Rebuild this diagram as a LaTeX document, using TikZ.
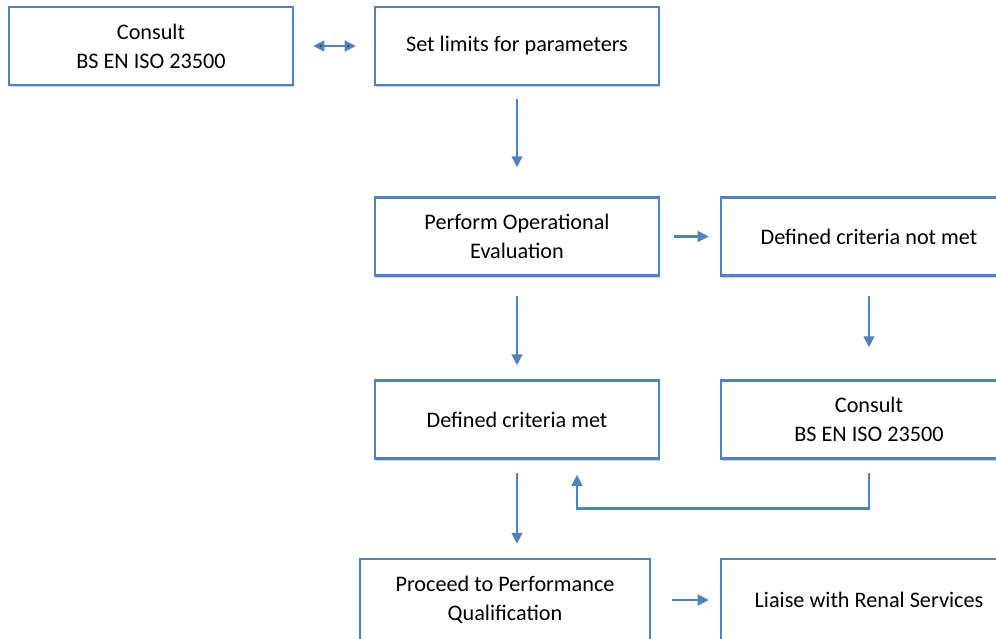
\documentclass[tikz,border=0pt]{standalone}
\usepackage{fontspec}
\setmainfont{Carlito}
\usetikzlibrary{arrows.meta,positioning,shadows}
\definecolor{boxblue}{RGB}{79,129,189}
\tikzset{
    stage/.style={
        rectangle,
        draw=boxblue,
        line width=1.5pt,
        fill=white,
        minimum width=7.1cm,
        minimum height=1.95cm,
        align=center,
        font=\fontsize{15.8}{20.6}\selectfont,
        drop shadow={shadow xshift=0.8pt, shadow yshift=-1.5pt, opacity=0.35},
    },
    wide stage/.style={
        stage,
        minimum width=7.4cm,
    },
    flow/.style={
        draw=boxblue,
        line width=2.1pt,
    },
}

\begin{document}
\begin{tikzpicture}[>={Triangle[width=0.26cm,length=0.28cm]}]
    \useasboundingbox (-12.925,1.15) rectangle (11.975,-14.8);
    \clip (-12.925,1.15) rectangle (11.975,-14.8);
    \node [stage] (limits) at (0,0) {Set limits for parameters};
    \node [stage,node distance=9.15cm,left of=limits] (consult1) {Consult\\BS EN ISO 23500};
    \node [stage,node distance=4.7625cm,below of=limits] (opeval) {Perform Operational\\Evaluation};
    \node [wide stage,node distance=8.8cm,right of=opeval] (notmet) {Defined criteria not met};
    \node [stage,node distance=4.575cm,below of=opeval] (met) {Defined criteria met};
    \node [wide stage,node distance=8.8cm,right of=met] (consult2) {Consult\\BS EN ISO 23500};
    \node [stage,minimum width=7.25cm,minimum height=2.05cm,node distance=4.5125cm,below of=met,xshift=-0.3cm] (perfq) {Proceed to Performance\\Qualification};
    \node [wide stage,minimum height=2.05cm,node distance=9.1cm,right of=perfq] (renal) {Liaise with Renal Services};

    \path[flow,<->,shorten <=0.475cm,shorten >=0.45cm] (consult1) edge (limits);
    \draw[flow,->,shorten <=0.325cm,shorten >=0.725cm] (limits) -- (opeval);
    \draw[flow,->,shorten <=0.35cm,shorten >=0.275cm] (opeval) -- (notmet);
    \draw[flow,->,shorten <=0.475cm,shorten >=0.35cm] (opeval) -- (met);
    \draw[flow,->,shorten <=0.475cm,shorten >=0.8cm] (notmet) -- (consult2);
    \draw[flow,->,shorten <=0.325cm,shorten >=0.375cm] (consult2.south) -- ++(0,-1.225cm) -| ([xshift=1.5cm]met.south);
    \draw[flow,->,shorten <=0.325cm,shorten >=0.35cm] (met.south) -- (met.south |- perfq.north);
    \draw[flow,->,shorten <=0.525cm,shorten >=0.275cm] (perfq) -- (renal);
\end{tikzpicture}
\end{document}
